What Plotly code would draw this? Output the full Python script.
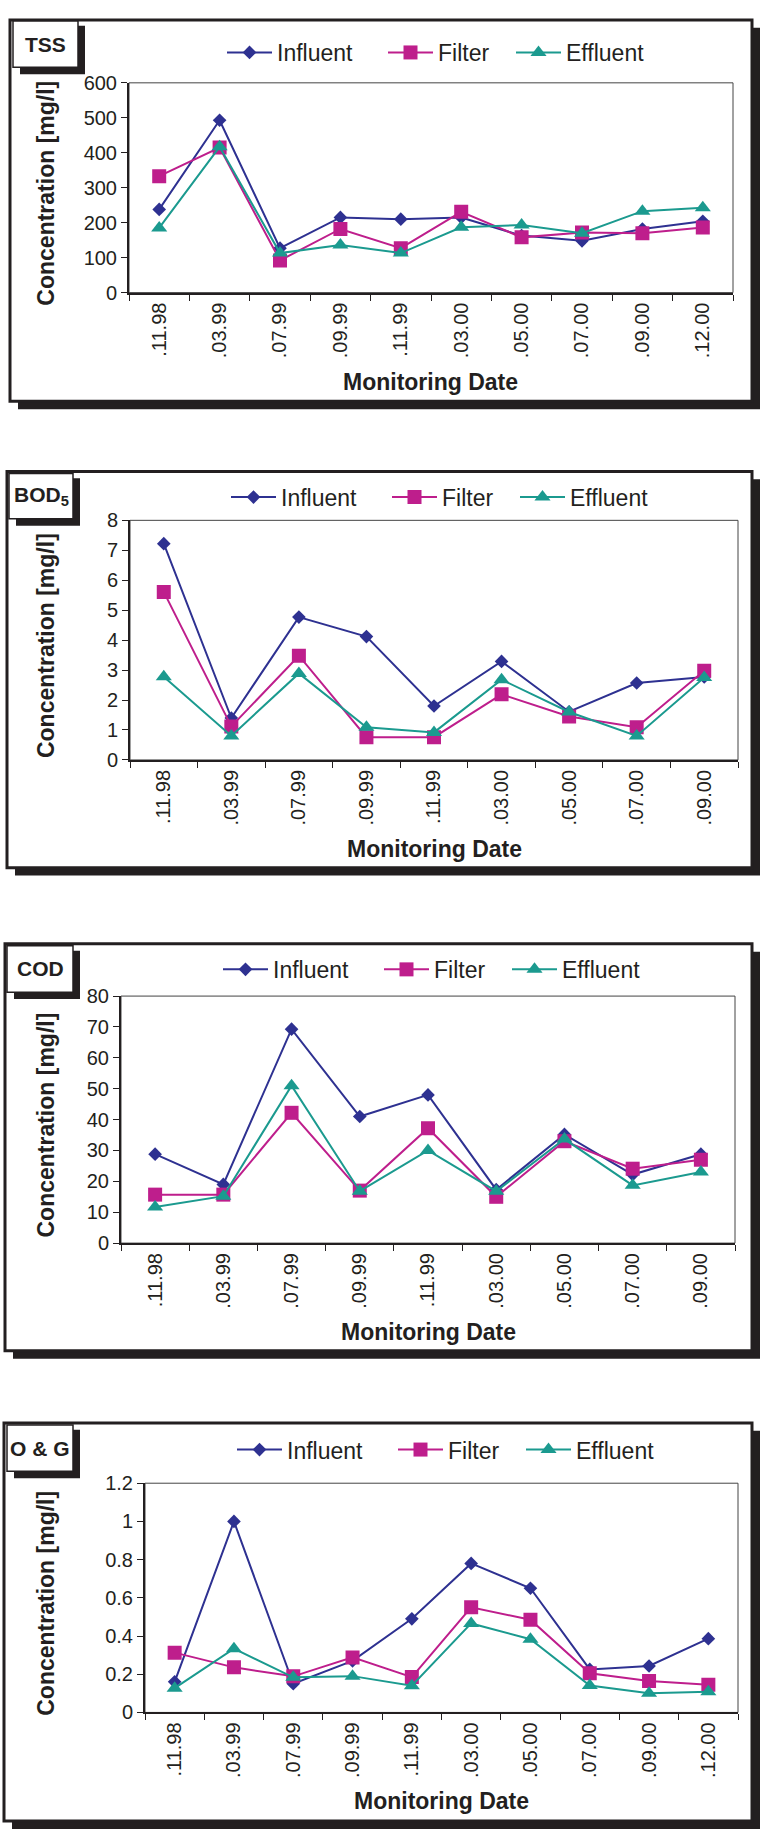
import plotly.graph_objects as go

W, H = 763, 1842
FONT = "Arial, 'Liberation Sans', Helvetica, sans-serif"
INK = "#231f20"

series_names = ["Influent", "Filter", "Effluent"]
series_colors = ["#2e3191", "#be1e8c", "#1b9a8f"]
series_symbols = ["diamond", "square", "triangle-up"]
series_sizes = [10.5, 14, 14]

# ---- data ----
tss_dates = [".11.98", ".03.99", ".07.99", ".09.99", ".11.99", ".03.00", ".05.00", ".07.00", ".09.00", ".12.00"]
tss_influent = [238, 493, 127, 215, 210, 215, 163, 148, 182, 204]
tss_filter = [333, 415, 92, 182, 127, 231, 158, 172, 170, 186]
tss_effluent = [185, 417, 113, 136, 113, 187, 193, 170, 233, 243]

bod_dates = [".11.98", ".03.99", ".07.99", ".09.99", ".11.99", ".03.00", ".05.00", ".07.00", ".09.00"]
bod_influent = [7.22, 1.40, 4.77, 4.12, 1.80, 3.29, 1.61, 2.57, 2.77]
bod_filter = [5.61, 1.12, 3.48, 0.76, 0.76, 2.19, 1.45, 1.09, 2.98]
bod_effluent = [2.78, 0.80, 2.89, 1.09, 0.92, 2.68, 1.60, 0.80, 2.75]

cod_dates = [".11.98", ".03.99", ".07.99", ".09.99", ".11.99", ".03.00", ".05.00", ".07.00", ".09.00"]
cod_influent = [28.8, 19.0, 69.3, 41.0, 48.0, 17.3, 35.2, 22.2, 28.8]
cod_filter = [15.7, 15.7, 42.2, 17.0, 37.2, 15.0, 33.0, 24.1, 27.0]
cod_effluent = [11.7, 15.2, 51.0, 16.8, 30.0, 16.8, 33.7, 18.7, 23.0]

og_dates = [".11.98", ".03.99", ".07.99", ".09.99", ".11.99", ".03.00", ".05.00", ".07.00", ".09.00", ".12.00"]
og_influent = [0.160, 1.000, 0.150, 0.270, 0.490, 0.780, 0.650, 0.225, 0.243, 0.386]
og_filter = [0.313, 0.236, 0.189, 0.288, 0.185, 0.550, 0.485, 0.205, 0.164, 0.145]
og_effluent = [0.127, 0.334, 0.184, 0.190, 0.140, 0.466, 0.383, 0.141, 0.100, 0.108]

panel_titles = ["TSS", "BOD<sub>5</sub>", "COD", "O &amp; G"]
panel_dates = [tss_dates, bod_dates, cod_dates, og_dates]
panel_values = [
    [tss_influent, tss_filter, tss_effluent],
    [bod_influent, bod_filter, bod_effluent],
    [cod_influent, cod_filter, cod_effluent],
    [og_influent, og_filter, og_effluent],
]
panel_ymax = [600, 8, 80, 1.2]
panel_dtick = [100, 1, 10, 0.2]

# ---- layout geometry (pixels) ----
layouts = [
    dict(frame=(10, 9, 752, 395), box=(13, 10, 78, 57), plot=(129, 72.7, 733, 285), leg_y=42, leg_dx=0),
    dict(frame=(7, 466, 752, 867), box=(9, 468, 73, 514), plot=(130, 515.5, 738, 758), leg_y=492, leg_dx=4),
    dict(frame=(5, 944, 752, 1356), box=(7, 946, 73, 993), plot=(121, 997, 735, 1247), leg_y=970, leg_dx=-4),
    dict(frame=(4, 1429, 752, 1832), box=(7, 1431, 73, 1478), plot=(145, 1490, 738, 1722), leg_y=1456, leg_dx=10),
]
legend_marker_x = [242, 403, 531]   # marker centre of each legend entry (panel 1)

def px(x):
    return x / W

def py(y):
    return 1 - y / H

fig = go.Figure()
shapes = []
annotations = []
SH = 8
legend_layouts = {}

for i in range(4):
    L = layouts[i]
    ax = "" if i == 0 else str(i + 1)
    dates = panel_dates[i]
    for k in range(3):
        n = i * 3 + k + 1
        legname = "legend" if n == 1 else f"legend{n}"
        fig.add_trace(go.Scatter(
            x=dates, y=panel_values[i][k], name=series_names[k],
            mode="lines+markers", showlegend=True,
            line=dict(color=series_colors[k], width=2),
            marker=dict(symbol=series_symbols[k], size=series_sizes[k], color=series_colors[k],
                        line=dict(width=0)),
            xaxis="x" + ax, yaxis="y" + ax, legend=legname,
        ))
        legend_layouts[legname] = dict(
            orientation="h", x=px(legend_marker_x[k] + L["leg_dx"] - 20), y=py(L["leg_y"]),
            xanchor="left", yanchor="middle", visible=True,
            font=dict(family=FONT, size=23, color=INK), bgcolor="rgba(0,0,0,0)",
            itemwidth=45, borderwidth=0,
        )
    x0, y0, x1, y1 = L["plot"]
    fig.update_layout(**{
        "xaxis" + ax: dict(
            domain=[px(x0), px(x1)], anchor="y" + ax, type="category",
            categoryorder="array", categoryarray=dates, range=[-0.5, len(dates) - 0.5],
            tickson="boundaries", ticks="outside", ticklen=6, tickwidth=1, tickcolor=INK,
            showline=True, linewidth=2, linecolor=INK, showgrid=False, zeroline=False,
            tickangle=-90, tickfont=dict(family=FONT, size=20, color=INK), fixedrange=True,
        ),
        "yaxis" + ax: dict(
            domain=[py(y1), py(y0)], anchor="x" + ax, range=[0, panel_ymax[i]],
            dtick=panel_dtick[i], tick0=0, ticks="outside", ticklen=6, tickwidth=1, tickcolor=INK,
            showline=True, linewidth=2, linecolor=INK, showgrid=False, zeroline=False,
            tickfont=dict(family=FONT, size=20, color=INK), fixedrange=True,
        ),
    })
    # outer frame with shadow
    fx0, fy0, fx1, fy1 = L["frame"]
    shapes.append(dict(type="rect", xref="paper", yref="paper", layer="below",
                       x0=px(fx0 + SH), x1=px(fx1 + SH), y0=py(fy1 + SH), y1=py(fy0 + SH),
                       fillcolor=INK, line=dict(width=0)))
    shapes.append(dict(type="rect", xref="paper", yref="paper", layer="below",
                       x0=px(fx0), x1=px(fx1), y0=py(fy1), y1=py(fy0),
                       fillcolor="white", line=dict(color=INK, width=3)))
    # label box with shadow
    bx0, by0, bx1, by1 = L["box"]
    shapes.append(dict(type="rect", xref="paper", yref="paper", layer="below",
                       x0=px(bx0 + 7), x1=px(bx1 + 7), y0=py(by1 + 7), y1=py(by0 + 5),
                       fillcolor=INK, line=dict(width=0)))
    shapes.append(dict(type="rect", xref="paper", yref="paper", layer="below",
                       x0=px(bx0), x1=px(bx1), y0=py(by1), y1=py(by0),
                       fillcolor="white", line=dict(color=INK, width=1.5)))
    annotations.append(dict(xref="paper", yref="paper", x=px((bx0 + bx1) / 2), y=py((by0 + by1) / 2),
                            text="<b>" + panel_titles[i] + "</b>", showarrow=False,
                            xanchor="center", yanchor="middle",
                            font=dict(family=FONT, size=21, color=INK)))
    # thin plot border (top / right)
    shapes.append(dict(type="rect", xref=f"x{ax} domain", yref=f"y{ax} domain",
                       x0=0, x1=1, y0=0, y1=1, line=dict(color="#444444", width=1), layer="below"))
    # axis titles
    annotations.append(dict(xref="paper", yref="paper", x=px(46), y=py((y0 + y1) / 2 + 6),
                            text="<b>Concentration [mg/l]</b>", textangle=-90, showarrow=False,
                            xanchor="center", yanchor="middle",
                            font=dict(family=FONT, size=23, color=INK)))
    annotations.append(dict(xref="paper", yref="paper", x=px((x0 + x1) / 2), y=py(y1 + 90),
                            text="<b>Monitoring Date</b>", showarrow=False,
                            xanchor="center", yanchor="middle",
                            font=dict(family=FONT, size=23, color=INK)))

fig.update_layout(**legend_layouts)
fig.update_layout(
    width=W, height=H, margin=dict(l=0, r=0, t=0, b=0), showlegend=True,
    paper_bgcolor="white", plot_bgcolor="rgba(0,0,0,0)",
    shapes=shapes, annotations=annotations,
    font=dict(family=FONT, color=INK),
)

fig.write_html("out.html", config={"displayModeBar": False, "staticPlot": True},
               post_script="document.body.style.margin='0';document.body.style.overflow='hidden';")
